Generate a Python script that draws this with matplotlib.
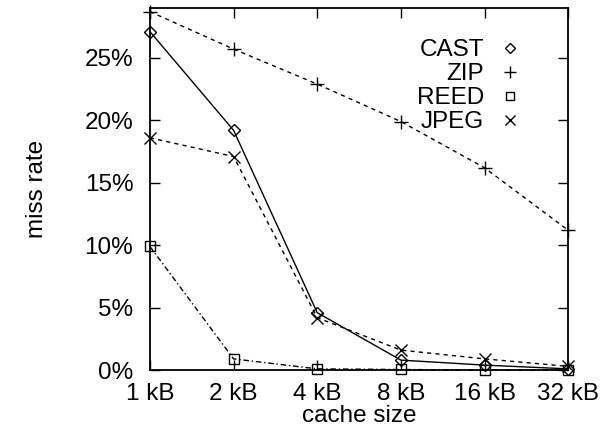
import numpy as np
import matplotlib
matplotlib.use("Agg")
import matplotlib.pyplot as plt
from matplotlib.lines import Line2D
from matplotlib.ticker import FuncFormatter

plt.rcParams['font.family'] = ['Liberation Sans', 'DejaVu Sans']

sizes = ['1 kB', '2 kB', '4 kB', '8 kB', '16 kB', '32 kB']
cast = [27.1, 19.2, 4.6, 0.8, 0.4, 0.1]
zip_ = [28.7, 25.7, 22.9, 19.9, 16.2, 11.2]
reed = [9.9, 0.9, 0.1, 0.05, 0.0, 0.0]
jpeg = [18.6, 17.1, 4.2, 1.6, 0.9, 0.3]

series = [
    ('CAST', cast, '-', 'D', 6, 'none'),
    ('ZIP', zip_, (0, (3, 3)), '+', 10, 'k'),
    ('REED', reed, (0, (4, 2, 1, 2)), 's', 7, 'none'),
    ('JPEG', jpeg, (0, (3, 3)), 'x', 9, 'k'),
]

fig = plt.figure(figsize=(6.07, 4.38), dpi=100)
ax = fig.add_axes([0.247, 0.155, 0.689, 0.827])

x = np.arange(len(sizes))
handles = []
for name, vals, ls, mk, ms, fc in series:
    ax.plot(x, vals, color='k', lw=1.0, linestyle=ls, marker=mk, ms=ms,
            mfc=fc, mec='k', mew=1.0, clip_on=False, zorder=3)
    handles.append(Line2D([], [], linestyle='none', marker=mk, ms=ms * 0.8,
                          mfc=fc, mec='k', mew=1.0, color='k'))

ax.set_xlim(0, len(sizes) - 1)
ax.set_ylim(0, 29)
ax.set_xticks(x)
ax.set_xticklabels(sizes)
ax.set_yticks(np.arange(0, 30, 5))
ax.yaxis.set_major_formatter(FuncFormatter(lambda v, p: '%d%%' % v))
ax.tick_params(direction='in', length=7, width=1, top=True, right=True,
               labelsize=17.5, color='k')
ax.tick_params(axis='y', pad=12)
ax.tick_params(axis='x', pad=9)
for s in ax.spines.values():
    s.set_linewidth(1.3)

ax.set_xlabel('cache size', fontsize=17.5, labelpad=0)
ax.set_ylabel('miss rate', fontsize=17.5, labelpad=26)

ax.legend(handles, [s[0] for s in series], loc='upper right',
          bbox_to_anchor=(0.93, 0.96), frameon=False, markerfirst=False,
          fontsize=17.5, handlelength=1.0, handletextpad=0.55,
          labelspacing=0.08, borderpad=0.2)

fig.savefig('out.png', dpi=100)
